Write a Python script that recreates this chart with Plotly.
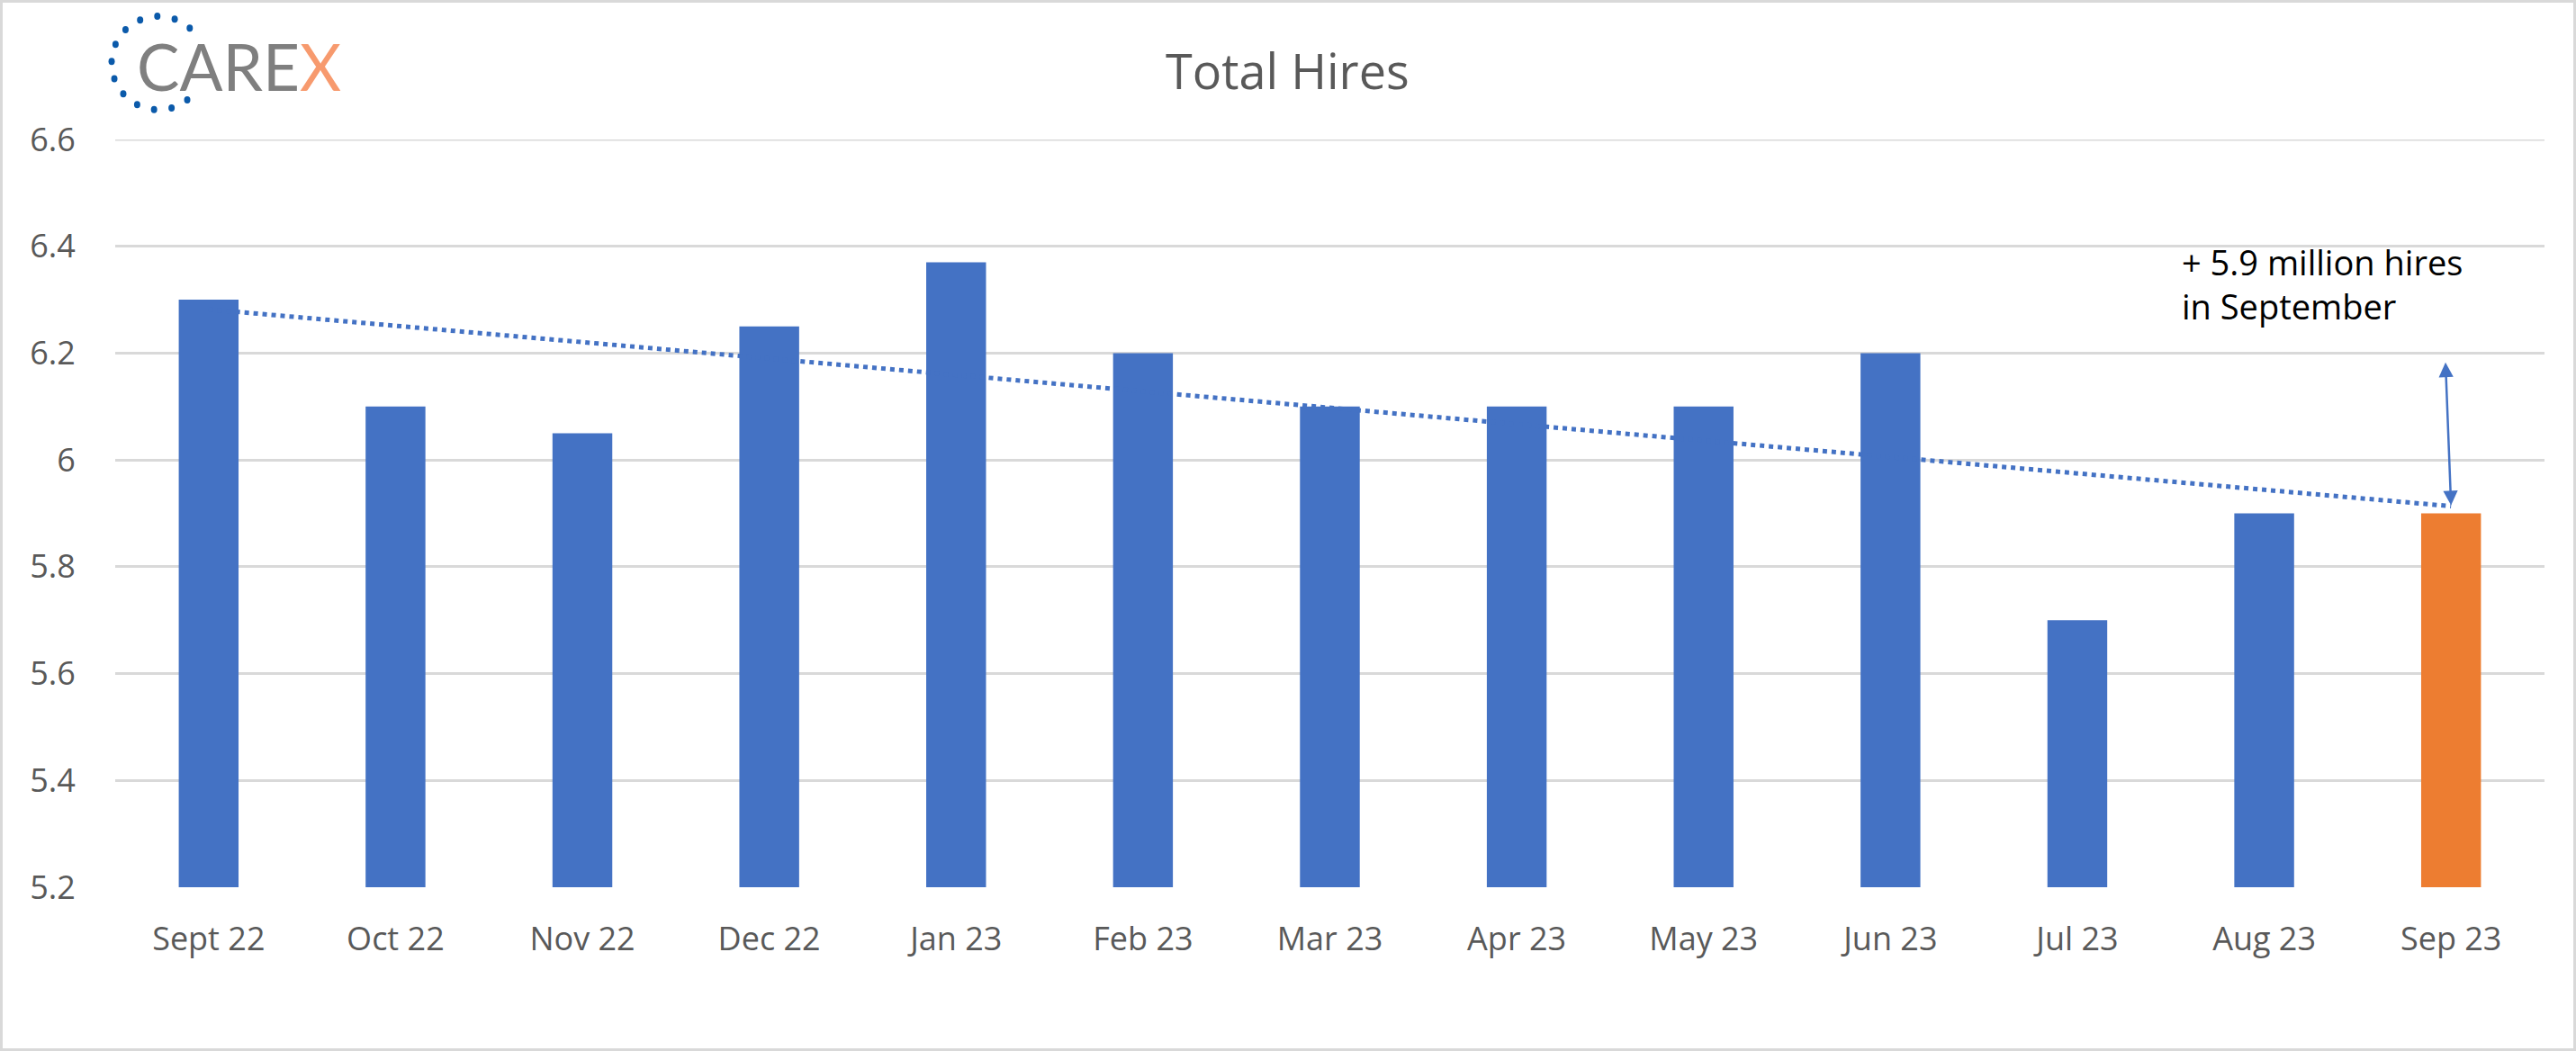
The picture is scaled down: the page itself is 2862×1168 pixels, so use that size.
import math
import numpy as np
import plotly.graph_objects as go

categories = ["Sept 22", "Oct 22", "Nov 22", "Dec 22", "Jan 23", "Feb 23", "Mar 23",
              "Apr 23", "May 23", "Jun 23", "Jul 23", "Aug 23", "Sep 23"]
hires = [6.3, 6.1, 6.05, 6.25, 6.37, 6.2, 6.1, 6.1, 6.1, 6.2, 5.7, 5.9, 5.9]
y_ticks = [5.2, 5.4, 5.6, 5.8, 6.0, 6.2, 6.4, 6.6]
y_tick_labels = ["5.2", "5.4", "5.6", "5.8", "6", "6.2", "6.4", "6.6"]

W, H = 2862, 1168
ML, MR, MT, MB = 128, 35, 155, 182

def px(x):
    return (x - ML) / (W - ML - MR)

def py(y):
    return 1 - (y - MT) / (H - MT - MB)

colors = ["#4472C4"] * (len(hires) - 1) + ["#ED7D31"]
idx = np.arange(len(hires))
slope, icpt = np.polyfit(idx, hires, 1)
trend = slope * idx + icpt

fig = go.Figure()
fig.add_trace(go.Bar(x=categories, y=[v - 5.2 for v in hires], base=5.2,
                     marker_color=colors, marker_line_width=0))
fig.add_trace(go.Scatter(x=categories, y=list(trend), mode="lines",
                         line=dict(color="#4472C4", width=5, dash="dot")))

shapes = []
shapes.append(dict(type="rect", xref="paper", yref="paper", x0=px(1.5), x1=px(W - 1.5),
                   y0=py(1.5), y1=py(H - 1.5), line=dict(color="#d9d9d9", width=3)))
shapes.append(dict(type="line", xref="paper", yref="y", x0=0, x1=1, y0=6.6, y1=6.6,
                   line=dict(color="#d9d9d9", width=3), layer="below"))
cx, cy, r = 176, 70, 52
for k in range(13):
    ang = math.radians(48 + k * (260 / 12))
    dx, dy = cx + r * math.cos(ang), cy - r * math.sin(ang)
    shapes.append(dict(type="circle", xref="paper", yref="paper",
                       x0=px(dx - 3.5), x1=px(dx + 3.5), y0=py(dy + 4), y1=py(dy - 4),
                       fillcolor="#0B5AAA", line_width=0))

annotations = [
    dict(xref="paper", yref="paper", x=px(150), y=py(73), xanchor="left", yanchor="middle",
         text="<span style='color:#7f7f7f'>CARE</span><span style='color:#F79A6E'>X</span>",
         showarrow=False, font=dict(family="Lato", size=71, color="#7f7f7f")),
    dict(xref="paper", yref="paper", x=px(1430), y=py(78), xanchor="center", yanchor="middle",
         text="Total Hires", showarrow=False,
         font=dict(family="Open Sans", size=54, color="#595959")),
    dict(x=10.55, y=6.33, xref="x", yref="y", xanchor="left", yanchor="middle", align="left",
         text="+ 5.9 million hires<br>in September", showarrow=False,
         font=dict(family="Open Sans", size=38, color="black")),
    dict(x=12.0, y=5.915, ax=11.97, ay=6.185, xref="x", yref="y", axref="x", ayref="y",
         text="", showarrow=True, arrowhead=2, arrowside="end+start", arrowsize=1.3,
         arrowwidth=2.5, arrowcolor="#4472C4"),
]

fig.update_layout(
    width=W, height=H, margin=dict(l=ML, r=MR, t=MT, b=MB),
    plot_bgcolor="white", paper_bgcolor="white", showlegend=False, bargap=0.68,
    shapes=shapes, annotations=annotations,
    font=dict(family="Open Sans", color="#595959"),
)
fig.update_xaxes(tickfont=dict(size=36, color="#595959"), showgrid=False, showline=False,
                 ticks="outside", ticklen=26, tickcolor="rgba(0,0,0,0)", range=[-0.5, 12.5])
fig.update_yaxes(range=[5.2, 6.6], tickvals=y_ticks, ticktext=y_tick_labels,
                 tickfont=dict(size=36, color="#595959"), gridcolor="#d9d9d9", gridwidth=3,
                 zeroline=False, showline=False, ticks="outside", ticklen=36,
                 tickcolor="rgba(0,0,0,0)")
fig.write_html("out.html", config={"displayModeBar": False},
               post_script="document.body.style.margin='0';")
